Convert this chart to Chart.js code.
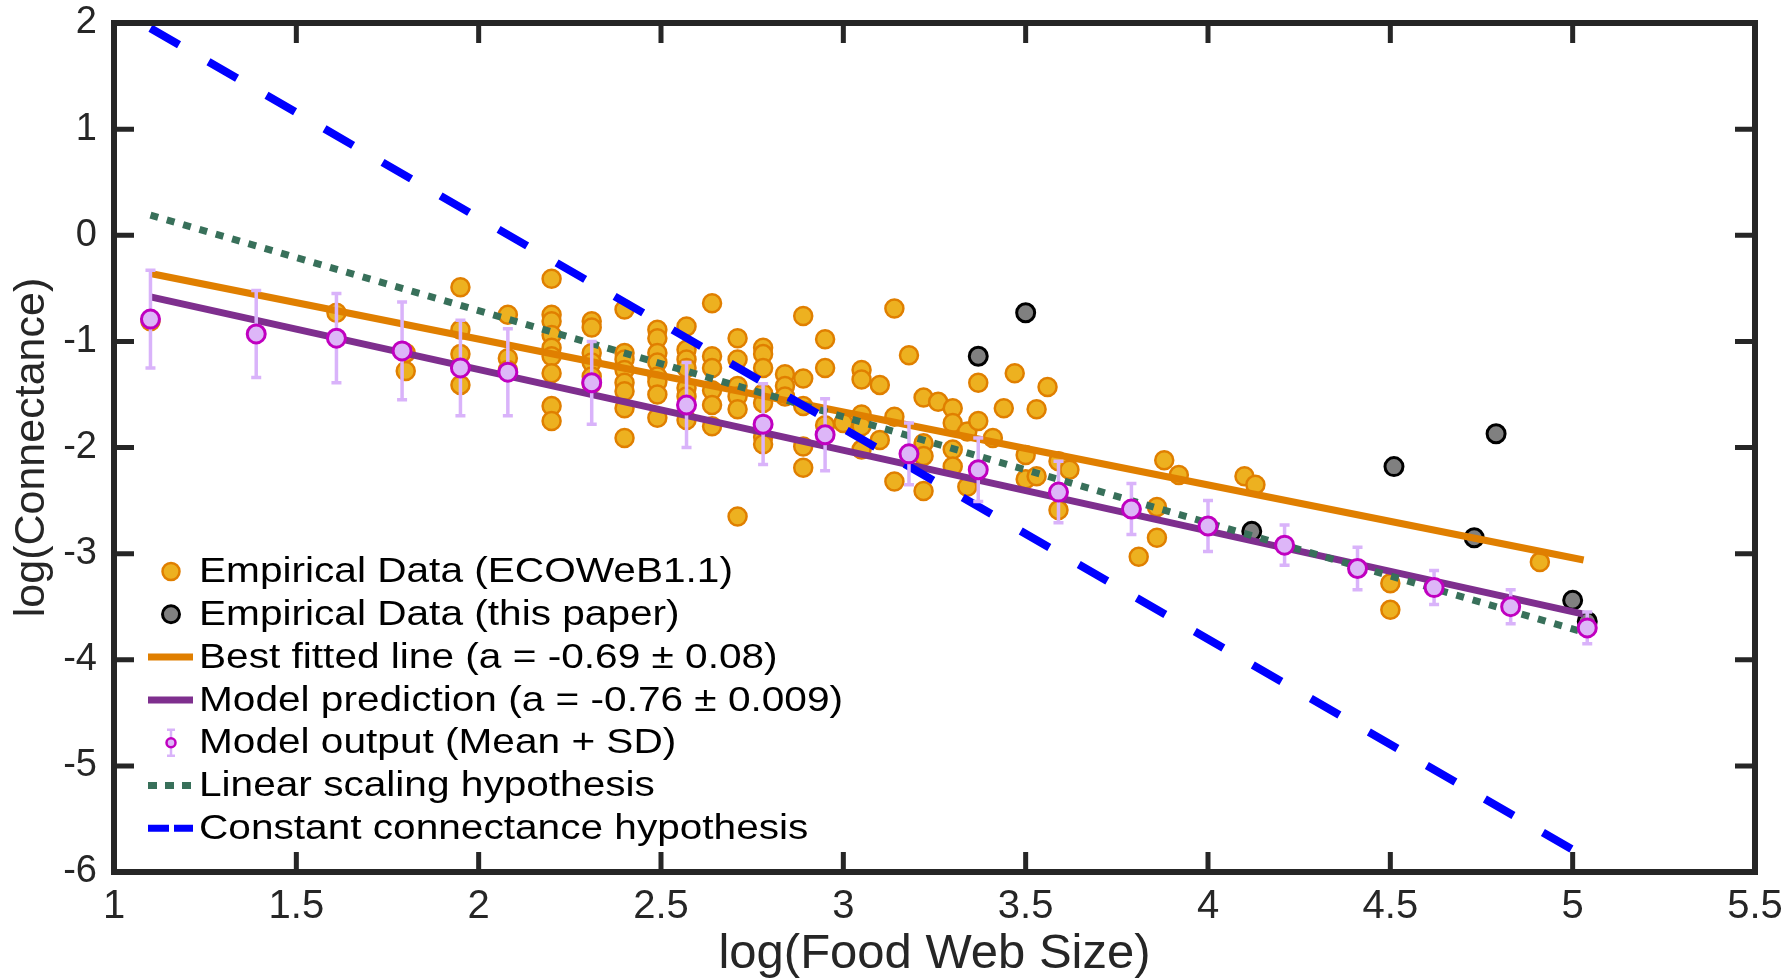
<!DOCTYPE html>
<html>
<head>
<meta charset="utf-8">
<script src="https://cdn.jsdelivr.net/npm/chart.js@4.4.1/dist/chart.umd.min.js"></script>
<style>
  html, body { margin: 0; padding: 0; background: #fff; }
  #wrap { width: 1788px; height: 978px; }
</style>
</head>
<body>
<div id="wrap"><canvas id="connChart" width="1788" height="978" style="width:1788px;height:978px"></canvas></div>
<script>
// axis ticks
const xTicks = [1, 1.5, 2, 2.5, 3, 3.5, 4, 4.5, 5, 5.5];
const yTicks = [2, 1, 0, -1, -2, -3, -4, -5, -6];

// empirical data (ECOWeB1.1)
const empX = [
  1.10, 1.61, 1.80, 1.80, 1.95, 1.95, 1.95, 1.95, 2.08, 2.08, 2.08,
  2.20, 2.20, 2.20, 2.20, 2.20, 2.20, 2.20, 2.20, 2.20,
  2.31, 2.31, 2.31, 2.31, 2.31, 2.31,
  2.40, 2.40, 2.40, 2.40, 2.40, 2.40, 2.40, 2.40,
  2.49, 2.49, 2.49, 2.49, 2.49, 2.49, 2.49, 2.49,
  2.57, 2.57, 2.57, 2.57, 2.57, 2.57, 2.57,
  2.64, 2.64, 2.64, 2.64, 2.64, 2.64,
  2.71, 2.71, 2.71, 2.71, 2.71, 2.71,
  2.78, 2.78, 2.78, 2.78, 2.78, 2.78, 2.78,
  2.84, 2.84, 2.84, 2.89, 2.89, 2.89, 2.89, 2.89,
  2.95, 2.95, 2.95, 3.00,
  3.05, 3.05, 3.05, 3.05, 3.05, 3.10, 3.10,
  3.14, 3.14, 3.14, 3.18, 3.22, 3.22, 3.22, 3.22, 3.26,
  3.30, 3.30, 3.30, 3.30, 3.34, 3.34, 3.37, 3.37,
  3.41, 3.44, 3.47, 3.50, 3.50, 3.53, 3.53, 3.56, 3.59, 3.59, 3.62,
  3.81, 3.86, 3.86, 3.88, 3.92, 4.10, 4.13, 4.50, 4.50, 4.91
];
const empY = [
  -0.81, -0.73, -1.11, -1.28, -0.49, -0.89, -1.12, -1.41, -0.75, -1.16, -1.27,
  -0.41, -0.75, -0.81, -0.94, -1.06, -1.14, -1.30, -1.61, -1.75,
  -0.81, -0.87, -1.11, -1.20, -1.33, -1.40,
  -0.70, -1.11, -1.17, -1.27, -1.39, -1.47, -1.63, -1.91,
  -0.89, -0.97, -1.11, -1.20, -1.33, -1.38, -1.50, -1.72,
  -0.86, -1.08, -1.17, -1.25, -1.44, -1.52, -1.74,
  -0.64, -1.14, -1.25, -1.46, -1.60, -1.80,
  -0.97, -1.17, -1.42, -1.52, -1.64, -2.65,
  -1.06, -1.12, -1.25, -1.49, -1.58, -1.90, -1.97,
  -1.31, -1.42, -1.52, -0.76, -1.35, -1.61, -1.99, -2.19,
  -0.98, -1.25, -1.79, -1.77,
  -1.27, -1.36, -1.69, -1.80, -2.02, -1.41, -1.93,
  -0.69, -1.71, -2.32, -1.13, -1.53, -1.96, -2.08, -2.41, -1.57,
  -1.63, -1.77, -2.02, -2.18, -1.85, -2.37, -1.39, -1.75,
  -1.91, -1.63, -1.30, -2.07, -2.30, -1.64, -2.27, -1.43, -2.13, -2.59, -2.21,
  -3.03, -2.56, -2.85, -2.12, -2.26, -2.27, -2.35, -3.28, -3.53, -3.08
];

// empirical data (this paper)
const paperX = [3.37, 3.50, 4.12, 4.51, 4.73, 4.79, 5.00, 5.04];
const paperY = [-1.14, -0.73, -2.79, -2.18, -2.85, -1.87, -3.44, -3.64];

// model output, mean and SD
const modelX = [1.10, 1.39, 1.61, 1.79, 1.95, 2.08, 2.31, 2.57, 2.78, 2.95,
                3.18, 3.37, 3.59, 3.79, 4.00, 4.21, 4.41, 4.62, 4.83, 5.04];
const modelMean = [-0.79, -0.93, -0.97, -1.09, -1.25, -1.29, -1.39, -1.60, -1.78, -1.88,
                   -2.06, -2.21, -2.42, -2.58, -2.74, -2.92, -3.14, -3.32, -3.50, -3.70];
const modelSd = [0.46, 0.41, 0.42, 0.46, 0.45, 0.41, 0.39, 0.40, 0.38, 0.34,
                 0.29, 0.30, 0.29, 0.24, 0.24, 0.19, 0.20, 0.16, 0.16, 0.15];

// straight lines (end points)
const lineX = [1.10, 5.03];
const bestFitY = [-0.36, -3.06];
const modelFitY = [-0.58, -3.57];
const linearY = [0.19, -3.74];
const constantY = [1.95, -5.85];

const legendLabels = [
  "Empirical Data (ECOWeB1.1)",
  "Empirical Data (this paper)",
  "Best fitted line (a = -0.69 \u00b1 0.08)",
  "Model prediction (a = -0.76 \u00b1 0.009)",
  "Model output (Mean + SD)",
  "Linear scaling hypothesis",
  "Constant connectance hypothesis"
];

const FONT = "'Liberation Sans', Arial, Helvetica, sans-serif";
const AXIS = "#262626";
const ORANGE_FILL = "#EDB120";
const ORANGE_EDGE = "#E07F00";
const PURPLE = "#7E2F8E";
const GREEN = "#38705A";
const BLUE = "#0000FF";
const MODEL_FILL = "#DDB6F8";
const MODEL_EDGE = "#C000C0";
const BAR = "#D9B3FA";

const toPts = (xs, ys) => xs.map((x, i) => ({ x: x, y: ys[i] }));

// error bars for model output, drawn under its markers
const errorBars = {
  id: "errorBars",
  beforeDatasetDraw(chart, args) {
    if (chart.data.datasets[args.index].label !== legendLabels[4]) return;
    const ctx = chart.ctx, xs = chart.scales.x, ys = chart.scales.y;
    ctx.save();
    ctx.strokeStyle = BAR;
    ctx.lineWidth = 3.5;
    modelX.forEach((x, i) => {
      const px = xs.getPixelForValue(x);
      const top = ys.getPixelForValue(modelMean[i] + modelSd[i]);
      const bot = ys.getPixelForValue(modelMean[i] - modelSd[i]);
      ctx.beginPath();
      ctx.moveTo(px, top); ctx.lineTo(px, bot);
      ctx.moveTo(px - 5, top); ctx.lineTo(px + 5, top);
      ctx.moveTo(px - 5, bot); ctx.lineTo(px + 5, bot);
      ctx.stroke();
    });
    ctx.restore();
  }
};

// box around the axes with inward ticks on all four sides
const axesBox = {
  id: "axesBox",
  afterDatasetsDraw(chart) {
    const ctx = chart.ctx, a = chart.chartArea;
    const xs = chart.scales.x, ys = chart.scales.y;
    const len = 20;
    ctx.save();
    ctx.strokeStyle = AXIS;
    ctx.lineWidth = 5;
    ctx.beginPath();
    xTicks.forEach(v => {
      const px = xs.getPixelForValue(v);
      ctx.moveTo(px, a.bottom); ctx.lineTo(px, a.bottom - len);
      ctx.moveTo(px, a.top); ctx.lineTo(px, a.top + len);
    });
    yTicks.forEach(v => {
      const py = ys.getPixelForValue(v);
      ctx.moveTo(a.left, py); ctx.lineTo(a.left + len, py);
      ctx.moveTo(a.right, py); ctx.lineTo(a.right - len, py);
    });
    ctx.stroke();
    ctx.lineWidth = 6;
    ctx.strokeRect(a.left, a.top, a.right - a.left, a.bottom - a.top);
    ctx.restore();
  }
};

// legend in the lower left of the plot
const plotLegend = {
  id: "plotLegend",
  afterDraw(chart) {
    const ctx = chart.ctx;
    const x0 = 148, x1 = 193, mx = 171, tx = 199;
    ctx.save();
    legendLabels.forEach((label, i) => {
      const y = 571.5 + i * 42.8;
      ctx.setLineDash([]);
      if (i === 0 || i === 1) {
        ctx.beginPath();
        ctx.arc(mx, y, 8.5, 0, Math.PI * 2);
        ctx.fillStyle = i === 0 ? ORANGE_FILL : "#808080";
        ctx.fill();
        ctx.lineWidth = i === 0 ? 2.5 : 3;
        ctx.strokeStyle = i === 0 ? ORANGE_EDGE : "#000";
        ctx.stroke();
      } else if (i === 4) {
        ctx.strokeStyle = BAR;
        ctx.lineWidth = 2.5;
        ctx.beginPath();
        ctx.moveTo(mx, y - 13); ctx.lineTo(mx, y + 13);
        ctx.moveTo(mx - 4, y - 13); ctx.lineTo(mx + 4, y - 13);
        ctx.moveTo(mx - 4, y + 13); ctx.lineTo(mx + 4, y + 13);
        ctx.stroke();
        ctx.beginPath();
        ctx.arc(mx, y, 4.5, 0, Math.PI * 2);
        ctx.fillStyle = MODEL_FILL;
        ctx.fill();
        ctx.strokeStyle = MODEL_EDGE;
        ctx.lineWidth = 2.5;
        ctx.stroke();
      } else {
        const styles = {
          2: [ORANGE_EDGE, []],
          3: [PURPLE, []],
          5: [GREEN, [9, 8]],
          6: [BLUE, [21, 5]]
        };
        ctx.strokeStyle = styles[i][0];
        ctx.setLineDash(styles[i][1]);
        ctx.lineWidth = 7;
        ctx.beginPath();
        ctx.moveTo(x0, y); ctx.lineTo(x1, y);
        ctx.stroke();
      }
      ctx.setLineDash([]);
      ctx.save();
      ctx.translate(tx, y);
      ctx.scale(1.16, 1);
      ctx.fillStyle = "#000";
      ctx.font = "35px " + FONT;
      ctx.textAlign = "left";
      ctx.textBaseline = "middle";
      ctx.fillText(label, 0, 1);
      ctx.restore();
    });
    ctx.restore();
  }
};

const lineSet = (label, ys, color, width, dash, order) => ({
  label: label,
  data: toPts(lineX, ys),
  showLine: true,
  borderColor: color,
  borderWidth: width,
  borderDash: dash,
  borderCapStyle: "butt",
  pointRadius: 0,
  fill: false,
  order: order
});

new Chart(document.getElementById("connChart"), {
  type: "scatter",
  data: {
    datasets: [
      {
        label: legendLabels[0],
        data: toPts(empX, empY),
        backgroundColor: ORANGE_FILL,
        borderColor: ORANGE_EDGE,
        borderWidth: 2.5,
        pointRadius: 9,
        order: 10
      },
      {
        label: legendLabels[1],
        data: toPts(paperX, paperY),
        backgroundColor: "#808080",
        borderColor: "#000000",
        borderWidth: 3,
        pointRadius: 9,
        order: 9
      },
      lineSet(legendLabels[2], bestFitY, ORANGE_EDGE, 7, [], 8),
      lineSet(legendLabels[3], modelFitY, PURPLE, 7, [], 7),
      lineSet(legendLabels[5], linearY, GREEN, 7, [8, 9], 6),
      lineSet(legendLabels[6], constantY, BLUE, 8, [33, 34], 5),
      {
        label: legendLabels[4],
        data: toPts(modelX, modelMean),
        backgroundColor: MODEL_FILL,
        borderColor: MODEL_EDGE,
        borderWidth: 3,
        pointRadius: 9,
        order: 1
      }
    ]
  },
  options: {
    responsive: false,
    animation: false,
    layout: { padding: { top: 23, right: 33, left: 0, bottom: 0 } },
    plugins: {
      legend: { display: false },
      tooltip: { enabled: false }
    },
    scales: {
      x: {
        type: "linear",
        min: 1,
        max: 5.5,
        afterBuildTicks: s => { s.ticks = xTicks.map(v => ({ value: v })); },
        afterFit: s => { s.height = 106; s.paddingLeft = 0; s.paddingRight = 0; },
        grid: { display: false, drawTicks: false },
        border: { display: false },
        ticks: {
          color: AXIS,
          padding: 11,
          maxRotation: 0,
          font: { family: FONT, size: 40 },
          callback: v => String(v)
        },
        title: {
          display: true,
          text: "log(Food Web Size)",
          color: AXIS,
          font: { family: FONT, size: 49, lineHeight: 0.94 },
          padding: { top: 0, bottom: 0 }
        }
      },
      y: {
        type: "linear",
        min: -6,
        max: 2,
        afterBuildTicks: s => { s.ticks = yTicks.map(v => ({ value: v })); },
        afterFit: s => { s.width = 114; s.paddingTop = 0; s.paddingBottom = 0; },
        grid: { display: false, drawTicks: false },
        border: { display: false },
        ticks: {
          color: AXIS,
          padding: 17,
          font: { family: FONT, size: 38 },
          callback: v => String(v)
        },
        title: {
          display: true,
          text: "log(Connectance)",
          color: AXIS,
          font: { family: FONT, size: 43, lineHeight: 1 },
          padding: { top: 11, bottom: 0 }
        }
      }
    }
  },
  plugins: [errorBars, axesBox, plotLegend]
});
</script>
</body>
</html>
